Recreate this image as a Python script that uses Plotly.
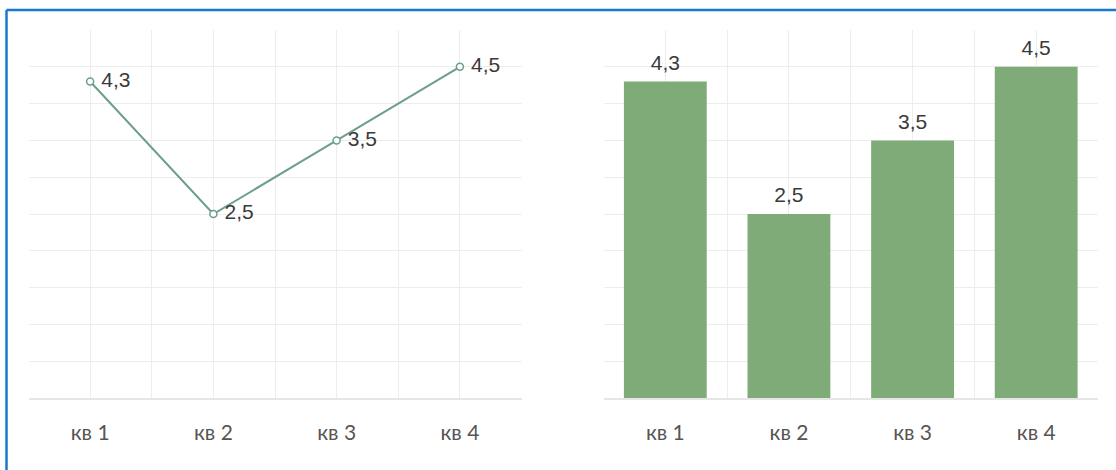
import plotly.graph_objects as go

categories = ["кв 1", "кв 2", "кв 3", "кв 4"]
values = [4.3, 2.5, 3.5, 4.5]
value_labels = ["4,3", "2,5", "3,5", "4,5"]

W, H = 1116, 470
xpos = list(range(len(categories)))
grid_vals = [i / 2 for i in range(-1, 2 * len(categories))]
grid_text = [categories[int(v)] if v >= 0 and v == int(v) else "" for v in grid_vals]

LINE = "#6b9f8a"
BAR = "#7eab78"
GRID = "#ededed"
LABEL_FONT = dict(family="Liberation Sans, Arial", size=21, color="#3a3a3a")


def px_x(p):
    return p / W


def px_y(p):
    return 1 - p / H


fig = go.Figure()
fig.add_trace(go.Scatter(
    x=xpos, y=values, mode="lines+markers+text",
    text=value_labels, texttemplate=" %{text}", textposition="middle right",
    textfont=LABEL_FONT,
    line=dict(color=LINE, width=2),
    marker=dict(symbol="circle", size=7, color="white", line=dict(color=LINE, width=1.5)),
    xaxis="x", yaxis="y", cliponaxis=False, showlegend=False, hoverinfo="skip",
))
fig.add_trace(go.Bar(
    x=xpos, y=values,
    marker=dict(color=BAR, line=dict(width=0)), width=0.67,
    xaxis="x2", yaxis="y2", showlegend=False,
))
fig.add_trace(go.Scatter(
    x=xpos, y=values, mode="markers+text",
    text=value_labels, textposition="top center", textfont=LABEL_FONT,
    marker=dict(size=9, opacity=0),
    xaxis="x2", yaxis="y2", cliponaxis=False, showlegend=False, hoverinfo="skip",
))

xaxis_common = dict(
    range=[-0.5, 3.5], tickmode="array", tickvals=grid_vals, ticktext=grid_text,
    showgrid=True, gridcolor=GRID, gridwidth=1, zeroline=False,
    showline=True, linecolor="#e6e6e6", linewidth=2, ticks="",
    ticklabelstandoff=15,
    tickfont=dict(family="Lato, Open Sans", size=21, color="#555555"),
    fixedrange=True,
)
yaxis_common = dict(
    range=[0, 5], dtick=0.5, showgrid=True, gridcolor=GRID, gridwidth=1,
    zeroline=False, showticklabels=False, showline=False, fixedrange=True,
)

fig.update_layout(
    width=W, height=H,
    margin=dict(l=0, r=0, t=0, b=0),
    paper_bgcolor="white", plot_bgcolor="white",
    xaxis=dict(domain=[px_x(28.5), px_x(521.5)], anchor="y", **xaxis_common),
    yaxis=dict(domain=[px_y(398), px_y(30)], anchor="x", **yaxis_common),
    xaxis2=dict(domain=[px_x(603.5), px_x(1098)], anchor="y2", **xaxis_common),
    yaxis2=dict(domain=[px_y(398), px_y(30)], anchor="x2", **yaxis_common),
    shapes=[
        dict(type="line", xref="paper", yref="paper",
             x0=px_x(6.5), x1=px_x(1120), y0=px_y(10), y1=px_y(10),
             line=dict(color="#1a78d0", width=2.5)),
        dict(type="line", xref="paper", yref="paper",
             x0=px_x(6.5), x1=px_x(6.5), y0=px_y(10), y1=px_y(475),
             line=dict(color="#1a78d0", width=2.5)),
    ],
)

fig.write_html("out.html")
